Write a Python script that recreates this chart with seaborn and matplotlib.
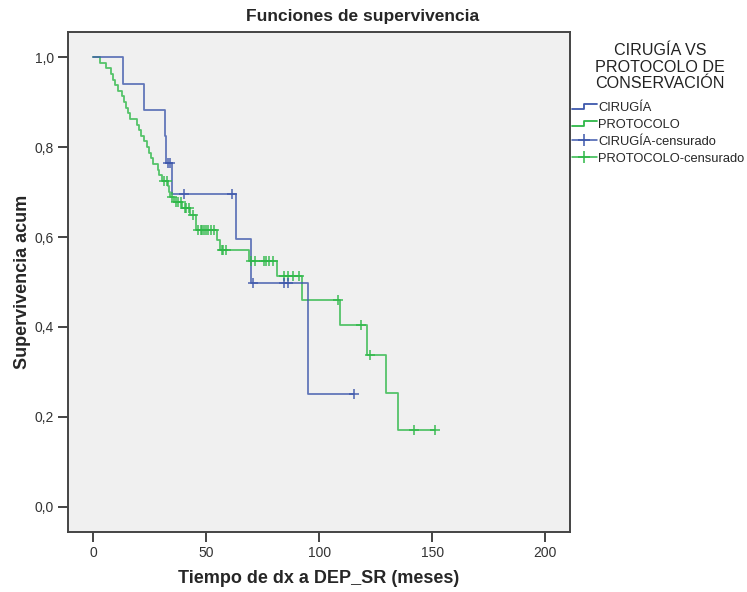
import numpy as np
import pandas as pd
import matplotlib
matplotlib.use("Agg")
import matplotlib.pyplot as plt
from matplotlib.lines import Line2D
from matplotlib.legend_handler import HandlerBase
import seaborn as sns

# ---------------- data ----------------
groups = ["CIRUGÍA", "PROTOCOLO"]
colors = ["#3E58AC", "#2EB848"]

# CIRUGÍA: event times and survival after each step
cir_time = [0.0, 13.4, 22.3, 31.7, 32.3, 34.8, 63.3, 70.0, 94.9]
cir_surv = [1.0, 0.941, 0.882, 0.824, 0.765, 0.696, 0.596, 0.497, 0.250]
cir_end = 115.5
cir_cens = [33.3, 34.0, 40.0, 61.4, 70.6, 84.5, 86.3, 115.5]

# PROTOCOLO
pro_time = [0.0, 2.9, 5.9, 7.8, 8.6, 9.7, 11.2, 12.7, 13.7, 14.5, 15.6, 16.2,
            19.6, 20.1, 21.1, 22.6, 24.0, 24.8, 25.5, 26.5, 28.5, 29.2, 30.4,
            33.0, 33.6, 34.1, 35.8, 39.5, 43.0, 45.4, 54.8, 56.2, 69.0, 81.5,
            92.4, 109.1, 121.1, 129.5, 134.7]
pro_surv = [1.0, 0.988, 0.975, 0.963, 0.950, 0.938, 0.925, 0.913, 0.900,
            0.888, 0.875, 0.863, 0.850, 0.838, 0.825, 0.813, 0.800, 0.788,
            0.775, 0.763, 0.750, 0.738, 0.725, 0.713, 0.701, 0.689, 0.677,
            0.665, 0.650, 0.616, 0.593, 0.571, 0.547, 0.513, 0.461, 0.404,
            0.337, 0.253, 0.170]
pro_end = 151.0
pro_cens = [31.4, 32.9, 34.8, 36.6, 37.6, 38.8, 40.5, 41.2, 42.2, 44.2,
            46.5, 47.5, 48.3, 49.2, 50.0, 51.0, 52.0, 53.5,
            56.8, 57.6, 58.6,
            69.8, 71.8, 75.5, 76.5, 77.9, 79.5,
            84.5, 86.4, 88.2, 91.2,
            108.5, 118.4, 122.5, 142.0, 151.0]

x_ticks = [0, 50, 100, 150, 200]
x_tick_labels = ["0", "50", "100", "150", "200"]
y_ticks = [0.0, 0.2, 0.4, 0.6, 0.8, 1.0]
y_tick_labels = ["0,0", "0,2", "0,4", "0,6", "0,8", "1,0"]

title = "Funciones de supervivencia"
xlabel = "Tiempo de dx a DEP_SR (meses)"
ylabel = "Supervivencia acum"
legend_title = "CIRUGÍA VS\nPROTOCOLO DE\nCONSERVACIÓN"
legend_labels = ["CIRUGÍA", "PROTOCOLO", "CIRUGÍA-censurado", "PROTOCOLO-censurado"]

# ---------------- build tables ----------------
def curve_df(t, s, end, name):
    tt = list(t) + [end]
    ss = list(s) + [s[-1]]
    return pd.DataFrame({"time": tt, "surv": ss, "group": name})

def cens_df(t, s, cens, name):
    t = np.asarray(t); s = np.asarray(s)
    idx = np.searchsorted(t, np.asarray(cens), side="right") - 1
    return pd.DataFrame({"time": cens, "surv": s[idx], "group": name})

curves = pd.concat([curve_df(cir_time, cir_surv, cir_end, groups[0]),
                    curve_df(pro_time, pro_surv, pro_end, groups[1])],
                   ignore_index=True)
censored = pd.concat([cens_df(cir_time, cir_surv, cir_cens, groups[0]),
                      cens_df(pro_time, pro_surv, pro_cens, groups[1])],
                     ignore_index=True)
palette = dict(zip(groups, colors))

# ---------------- plot ----------------
sns.set_style("ticks")
plt.rcParams["font.family"] = ["Liberation Sans", "DejaVu Sans"]

W, H = 747, 592
fig = plt.figure(figsize=(W / 100, H / 100), dpi=100)
fig.patch.set_facecolor("white")
ax = fig.add_axes([68 / W, 1 - 532 / H, (570 - 68) / W, (532 - 32) / H])
ax.set_facecolor("#F0F0F0")

for g in [groups[1], groups[0]]:
    sub = curves[curves.group == g]
    sns.lineplot(data=sub, x="time", y="surv", color=palette[g],
                 estimator=None, sort=False, drawstyle="steps-post",
                 linewidth=1.3, alpha=0.8, ax=ax, legend=False)
    subc = censored[censored.group == g]
    sns.scatterplot(data=subc, x="time", y="surv", color=palette[g],
                    marker="+", s=42, linewidth=1.2, alpha=0.85, ax=ax,
                    legend=False, zorder=3)

ax.set_xlim(-11.1, 210.9)
ax.set_ylim(-0.056, 1.056)
ax.set_xticks(x_ticks)
ax.set_xticklabels(x_tick_labels)
ax.set_yticks(y_ticks)
ax.set_yticklabels(y_tick_labels)
ax.tick_params(axis="both", direction="out", length=7, width=1.4,
               color="#444444", labelsize=10, labelcolor="#333333", pad=3)
for sp in ax.spines.values():
    sp.set_visible(True)
    sp.set_color("#444444")
    sp.set_linewidth(1.4)

ax.set_xlabel(xlabel, fontsize=13, fontweight="bold", labelpad=7)
ax.set_ylabel(ylabel, fontsize=13, fontweight="bold", labelpad=2.5)
fig.text(363 / W, 1 - 17 / H, title, ha="center", va="center",
         fontsize=12.5, fontweight="bold")

# ---------------- legend ----------------
class StepHandler(HandlerBase):
    def create_artists(self, legend, orig_handle, xdescent, ydescent,
                       width, height, fontsize, trans):
        x0, y0 = -xdescent, -ydescent
        xs = [x0, x0 + width * 0.5, x0 + width * 0.5, x0 + width]
        ys = [y0 + height * 0.2, y0 + height * 0.2, y0 + height * 0.75, y0 + height * 0.75]
        ln = Line2D(xs, ys, color=orig_handle.get_color(),
                    linewidth=orig_handle.get_linewidth())
        ln.set_transform(trans)
        return [ln]

fig.text(660 / W, 1 - 67 / H, legend_title, ha="center", va="center",
         fontsize=11.6, color="#222222", linespacing=1.1,
         multialignment="center")

h_steps = [Line2D([], [], color=c, linewidth=1.3) for c in colors]
h_cens = [Line2D([], [], color=c, linewidth=1.1, marker="+", markersize=9,
                 markeredgewidth=1.1) for c in colors]
handles = h_steps + h_cens
leg = fig.legend(handles, legend_labels,
                 loc="upper left", bbox_to_anchor=(572 / W, 1 - 102 / H),
                 frameon=False, borderpad=0, borderaxespad=0,
                 handlelength=1.9, handletextpad=0.15, labelspacing=0.38,
                 fontsize=9.3, numpoints=1,
                 handler_map={h_steps[0]: StepHandler(), h_steps[1]: StepHandler()})

fig.savefig("out.png", dpi=100, facecolor="white")
